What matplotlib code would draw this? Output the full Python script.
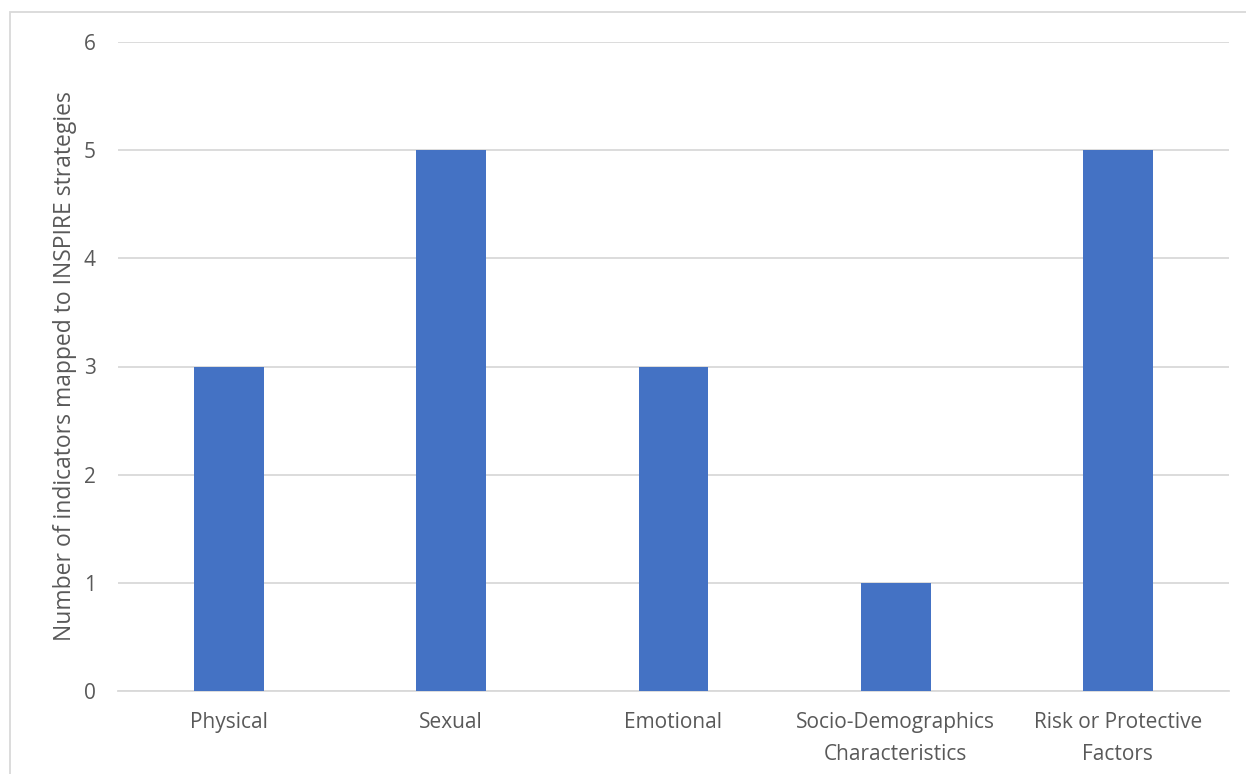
import matplotlib
matplotlib.use("Agg")
import matplotlib.pyplot as plt
from matplotlib.patches import Rectangle

categories = ["Physical", "Sexual", "Emotional", "Socio-Demographics\nCharacteristics", "Risk or Protective\nFactors"]
values = [3, 5, 3, 1, 5]
y_ticks = [0, 1, 2, 3, 4, 5, 6]
y_label = "Number of indicators mapped to INSPIRE strategies"

plt.rcParams['font.family'] = ['Open Sans', 'DejaVu Sans']
text_color = "#595959"
grid_color = "#D9D9D9"
bar_color = "#4472C4"

fig = plt.figure(figsize=(12.46, 7.74), dpi=100)
ax = fig.add_axes([118/1246, 1 - 691/774, (1229-118)/1246, (691-42)/774])

x = list(range(len(categories)))
ax.bar(x, values, width=0.315, color=bar_color, zorder=3)
ax.set_xlim(-0.5, len(categories) - 0.5)
ax.set_ylim(0, 6)
ax.set_yticks(y_ticks)
ax.set_yticklabels([str(t) for t in y_ticks])
ax.set_xticks(x)
ax.set_xticklabels(categories, linespacing=1.7)
ax.yaxis.grid(True, color=grid_color, linewidth=1.3, zorder=0)
ax.set_axisbelow(True)
for s in ["top", "right", "left"]:
    ax.spines[s].set_visible(False)
ax.spines["bottom"].set_color(grid_color)
ax.spines["bottom"].set_linewidth(1.3)
ax.tick_params(axis="both", length=0, colors=text_color, labelsize=15)
ax.tick_params(axis="y", pad=16)
ax.tick_params(axis="x", pad=15)
ax.set_ylabel(y_label, color=text_color, fontsize=16.5, labelpad=5)

fig.add_artist(Rectangle((10/1246, -0.2), 1.2, 0.2 + (1 - 12/774), transform=fig.transFigure,
                         fill=False, edgecolor="#D9D9D9", linewidth=1.3))

fig.savefig("out.png", dpi=100)
